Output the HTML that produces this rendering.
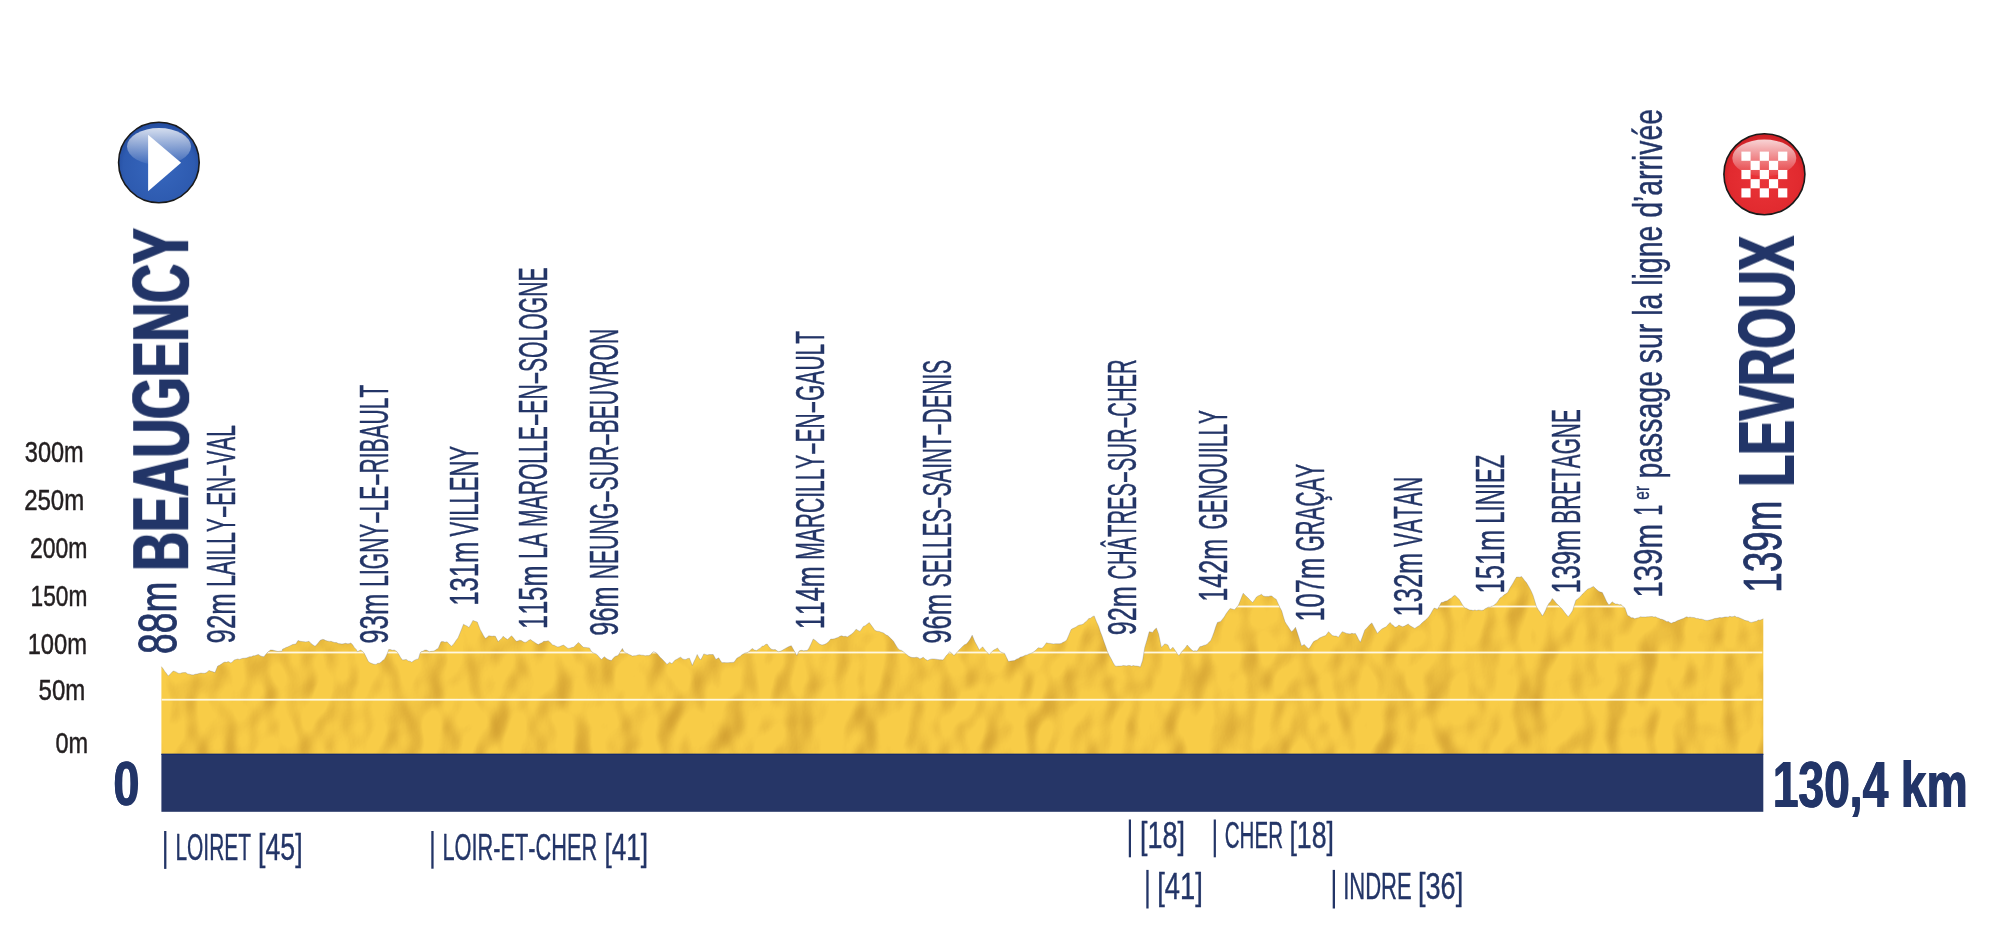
<!DOCTYPE html><html><head><meta charset="utf-8"><style>html,body{margin:0;padding:0;background:#fff;width:2000px;height:935px;overflow:hidden}svg{display:block;will-change:transform}text{font-family:"Liberation Sans",sans-serif;font-kerning:none}</style></head><body>
<svg width="2000" height="935" viewBox="0 0 2000 935">
<defs>
<clipPath id="prof"><path d="M161.4 754.0 L161.40 666.60 L163.10 668.79 L164.80 671.39 L166.50 673.56 L168.20 675.90 L169.87 674.46 L171.53 672.85 L173.20 671.00 L174.83 671.44 L176.47 672.13 L178.10 673.20 L180.03 673.45 L181.95 672.78 L183.88 672.61 L185.80 672.60 L187.63 673.88 L189.47 674.14 L191.30 674.80 L193.23 674.88 L195.15 674.23 L197.07 674.05 L199.00 673.50 L200.93 673.06 L202.85 673.27 L204.77 673.26 L206.70 672.60 L208.90 670.40 L210.55 671.07 L212.20 671.50 L215.00 672.60 L217.70 666.00 L219.53 665.22 L221.37 664.05 L223.20 662.70 L224.87 662.04 L226.53 662.30 L228.20 661.60 L230.90 662.90 L232.55 661.63 L234.20 660.00 L235.96 659.58 L237.72 659.00 L239.48 659.41 L241.24 658.72 L243.00 658.30 L244.65 658.20 L246.30 657.94 L247.95 657.39 L249.60 656.70 L251.36 656.74 L253.12 655.83 L254.88 655.75 L256.64 654.99 L258.40 654.50 L260.23 655.73 L262.07 656.41 L263.90 656.70 L266.10 653.94 L268.30 651.70 L270.50 650.00 L272.33 650.07 L274.17 650.45 L276.00 650.90 L278.00 651.52 L280.00 651.14 L282.00 651.20 L282.60 649.00 L284.25 648.51 L285.90 647.52 L287.55 647.01 L289.20 646.20 L290.85 645.40 L292.50 644.60 L294.15 644.27 L295.80 644.00 L298.00 640.50 L300.20 641.23 L302.40 641.60 L304.05 641.70 L305.70 641.91 L307.35 641.64 L309.00 641.30 L311.00 643.42 L313.00 644.99 L315.00 646.20 L316.67 644.84 L318.33 642.65 L320.00 640.50 L322.20 639.40 L323.96 639.58 L325.72 640.58 L327.48 641.06 L329.24 641.38 L331.00 641.30 L332.83 641.91 L334.67 642.49 L336.50 642.49 L338.33 643.50 L340.17 643.72 L342.00 644.00 L343.76 643.69 L345.52 643.27 L347.28 643.76 L349.04 643.66 L350.80 642.90 L352.63 644.83 L354.47 647.67 L356.30 649.50 L357.40 651.70 L359.05 650.87 L360.70 650.00 L362.35 651.19 L364.00 652.80 L366.20 657.11 L368.40 661.60 L370.00 662.70 L372.00 663.61 L374.00 664.27 L376.00 664.40 L377.67 663.36 L379.33 663.14 L381.00 662.20 L382.65 660.49 L384.30 659.40 L385.95 656.40 L387.60 652.80 L388.70 649.50 L390.53 649.61 L392.37 650.28 L394.20 650.00 L396.40 651.20 L398.60 653.90 L400.55 657.48 L402.50 660.00 L404.40 659.80 L406.30 659.40 L408.13 660.88 L409.97 661.20 L411.80 662.20 L414.00 660.52 L416.20 659.40 L418.40 658.90 L420.00 653.40 L421.20 651.70 L422.83 651.32 L424.47 650.24 L426.10 650.00 L427.75 650.68 L429.40 651.70 L431.23 651.35 L433.07 651.17 L434.90 650.60 L436.55 649.29 L438.20 648.40 L441.00 641.80 L443.00 641.49 L445.00 642.23 L447.00 641.80 L449.20 643.93 L451.40 646.20 L453.05 644.66 L454.70 642.56 L456.35 640.04 L458.00 638.00 L459.83 633.46 L461.67 628.92 L463.50 624.20 L465.15 625.28 L466.80 625.90 L469.00 627.50 L470.95 624.14 L472.90 620.40 L475.10 621.35 L477.30 622.00 L480.00 629.20 L481.83 632.51 L483.67 635.90 L485.50 638.50 L487.15 637.26 L488.80 635.80 L490.45 635.96 L492.10 636.35 L493.75 636.04 L495.40 636.30 L498.20 641.80 L499.83 639.89 L501.47 638.66 L503.10 636.30 L505.30 638.07 L507.50 639.60 L509.45 637.84 L511.40 635.80 L513.03 637.29 L514.67 639.49 L516.30 641.30 L517.95 640.92 L519.60 640.20 L521.43 640.60 L523.27 641.87 L525.10 642.40 L526.93 641.69 L528.77 640.24 L530.60 639.60 L532.52 641.06 L534.45 642.17 L536.38 643.61 L538.30 644.60 L540.13 643.47 L541.97 642.69 L543.80 641.30 L546.00 641.31 L548.20 640.70 L550.40 642.57 L552.60 645.10 L554.25 645.23 L555.90 646.21 L557.55 646.89 L559.20 646.80 L561.40 645.83 L563.60 645.10 L565.80 646.81 L568.00 648.40 L569.83 648.22 L571.67 647.60 L573.50 647.30 L575.17 645.64 L576.83 643.96 L578.50 642.40 L580.13 644.02 L581.77 645.85 L583.40 647.30 L585.40 647.42 L587.40 647.69 L589.40 647.90 L591.60 651.70 L593.80 653.15 L596.00 653.90 L597.83 655.41 L599.67 657.73 L601.50 659.40 L604.30 656.70 L607.00 658.90 L609.20 660.01 L611.40 660.50 L613.05 658.53 L614.70 656.70 L616.35 656.00 L618.00 655.60 L619.70 652.80 L622.40 648.40 L624.10 651.70 L625.73 653.01 L627.37 653.43 L629.00 654.50 L630.65 655.12 L632.30 656.10 L634.13 655.78 L635.97 655.64 L637.80 655.00 L639.63 654.84 L641.47 655.14 L643.30 655.25 L645.13 655.80 L646.97 655.54 L648.80 655.60 L650.47 654.72 L652.13 652.80 L653.80 651.70 L655.40 652.50 L657.00 653.40 L658.67 655.47 L660.33 657.51 L662.00 658.90 L663.67 660.79 L665.33 662.42 L667.00 664.40 L669.70 662.20 L671.90 663.80 L673.55 661.66 L675.20 660.00 L677.03 659.19 L678.87 657.96 L680.70 657.20 L682.35 658.68 L684.00 659.40 L685.83 659.44 L687.67 658.48 L689.50 658.30 L692.30 665.50 L693.93 661.73 L695.57 658.54 L697.20 654.50 L698.85 657.48 L700.50 660.00 L702.15 657.33 L703.80 653.90 L705.45 654.41 L707.10 655.00 L709.13 654.60 L711.17 654.58 L713.20 654.50 L715.90 659.40 L718.70 657.80 L720.35 660.61 L722.00 662.70 L724.00 662.59 L726.00 662.66 L728.00 662.70 L730.00 662.56 L732.00 662.39 L734.00 662.20 L736.80 658.30 L738.45 657.22 L740.10 656.58 L741.75 654.79 L743.40 653.90 L745.05 653.00 L746.70 652.80 L748.53 651.83 L750.37 650.31 L752.20 648.40 L754.40 650.04 L756.60 650.60 L758.43 649.17 L760.27 648.17 L762.10 646.20 L763.77 645.95 L765.43 644.58 L767.10 644.00 L769.00 646.82 L770.90 649.00 L773.10 649.65 L775.30 649.50 L776.95 650.85 L778.60 651.70 L780.25 651.27 L781.90 650.60 L784.10 649.16 L786.30 647.90 L787.97 647.12 L789.63 646.29 L791.30 645.70 L794.00 650.60 L796.80 655.60 L799.00 651.20 L800.00 650.60 L801.80 650.31 L803.60 650.78 L805.40 650.51 L807.20 650.60 L808.80 648.40 L811.00 644.08 L813.20 639.00 L815.40 640.39 L817.60 642.40 L819.80 644.21 L822.00 645.10 L824.20 644.57 L826.40 643.50 L828.60 641.73 L830.80 639.00 L832.63 639.12 L834.47 638.79 L836.30 638.00 L838.13 637.44 L839.97 636.20 L841.80 635.80 L843.63 636.49 L845.47 636.34 L847.30 636.90 L849.50 635.42 L851.70 634.10 L853.90 631.90 L856.10 629.20 L858.05 630.42 L860.00 631.40 L861.65 628.92 L863.30 626.40 L865.30 625.63 L867.30 624.07 L869.30 622.60 L871.13 625.12 L872.97 627.61 L874.80 630.30 L877.00 631.28 L879.20 631.40 L881.40 632.28 L883.60 633.00 L885.80 634.75 L888.00 635.80 L889.83 637.60 L891.67 639.29 L893.50 641.30 L895.70 644.98 L897.90 648.40 L899.73 649.89 L901.57 650.40 L903.40 651.70 L905.05 653.46 L906.70 654.50 L908.90 656.33 L911.10 657.20 L912.93 657.58 L914.77 657.59 L916.60 657.20 L918.25 657.71 L919.90 658.90 L921.55 658.27 L923.20 657.20 L925.40 659.28 L927.60 660.50 L929.80 659.39 L932.00 658.90 L933.83 658.96 L935.67 659.13 L937.50 659.40 L939.33 659.72 L941.17 659.83 L943.00 660.00 L944.65 657.88 L946.30 655.60 L947.95 654.00 L949.60 651.70 L951.80 653.30 L954.00 655.60 L955.65 653.65 L957.30 652.30 L958.95 650.11 L960.60 648.40 L962.52 646.51 L964.45 644.81 L966.38 643.98 L968.30 641.80 L970.25 638.92 L972.20 635.20 L974.90 641.80 L977.10 645.63 L979.30 650.00 L980.95 648.50 L982.60 646.80 L984.25 648.93 L985.90 651.20 L987.55 652.78 L989.20 654.50 L991.40 652.22 L993.60 650.00 L995.55 649.18 L997.50 647.90 L1000.20 651.70 L1002.40 652.73 L1004.60 653.40 L1006.55 657.47 L1008.50 661.60 L1010.50 661.06 L1012.50 660.81 L1014.50 660.50 L1016.50 659.13 L1018.50 658.38 L1020.50 657.10 L1022.15 656.84 L1023.80 655.99 L1025.45 655.17 L1027.10 654.90 L1028.93 653.98 L1030.77 653.42 L1032.60 652.70 L1034.43 651.26 L1036.27 649.79 L1038.10 647.80 L1040.05 648.04 L1042.00 648.30 L1044.20 645.92 L1046.40 642.80 L1048.30 643.31 L1050.20 643.40 L1051.85 643.69 L1053.50 643.90 L1055.42 643.76 L1057.35 643.75 L1059.28 643.81 L1061.20 643.40 L1063.03 642.33 L1064.87 641.47 L1066.70 640.10 L1068.90 634.91 L1071.10 629.60 L1072.75 628.52 L1074.40 627.83 L1076.05 627.03 L1077.70 625.80 L1079.53 624.95 L1081.37 624.70 L1083.20 624.10 L1085.03 622.30 L1086.87 620.88 L1088.70 618.60 L1090.53 618.19 L1092.37 616.79 L1094.20 615.90 L1096.40 621.56 L1098.60 626.30 L1100.36 631.72 L1102.12 636.31 L1103.88 641.55 L1105.64 646.30 L1107.40 651.60 L1109.33 655.56 L1111.25 659.00 L1113.17 662.77 L1115.10 665.90 L1116.75 666.23 L1118.40 666.08 L1120.05 666.11 L1121.70 665.92 L1123.35 665.48 L1125.00 665.70 L1126.65 665.91 L1128.30 665.42 L1129.95 665.58 L1131.60 666.18 L1133.25 665.56 L1134.90 665.90 L1136.73 666.00 L1138.57 666.37 L1140.40 667.00 L1142.60 660.40 L1144.80 647.20 L1147.00 639.94 L1149.20 631.80 L1150.85 631.91 L1152.50 632.40 L1154.45 629.87 L1156.40 628.00 L1158.60 634.00 L1161.30 647.20 L1162.95 645.96 L1164.60 643.90 L1166.25 644.21 L1167.90 645.00 L1170.10 650.00 L1172.90 647.20 L1175.60 651.10 L1177.25 653.71 L1178.90 655.50 L1180.55 653.56 L1182.20 651.10 L1183.87 649.47 L1185.53 647.54 L1187.20 645.00 L1189.20 647.20 L1191.20 649.44 L1193.20 651.10 L1195.15 650.78 L1197.10 651.10 L1199.80 646.70 L1201.72 646.34 L1203.65 645.41 L1205.58 644.89 L1207.50 643.90 L1209.15 642.00 L1210.80 640.60 L1212.45 636.40 L1214.10 632.04 L1215.75 626.73 L1217.40 622.50 L1219.05 621.89 L1220.70 621.40 L1222.46 619.14 L1224.22 616.96 L1225.98 614.01 L1227.74 611.53 L1229.50 609.30 L1230.00 608.60 L1232.20 609.02 L1234.40 609.70 L1236.35 607.70 L1238.30 605.30 L1239.93 601.59 L1241.57 597.24 L1243.20 593.20 L1245.40 595.38 L1247.60 597.60 L1249.27 599.27 L1250.93 600.90 L1252.60 602.60 L1254.50 599.88 L1256.40 597.10 L1258.07 595.89 L1259.73 595.33 L1261.40 594.30 L1263.30 595.93 L1265.20 596.50 L1266.85 596.40 L1268.50 596.57 L1270.15 595.92 L1271.80 596.00 L1274.00 597.92 L1276.20 599.30 L1278.40 604.20 L1280.05 607.83 L1281.70 610.80 L1283.35 616.56 L1285.00 621.80 L1286.65 624.39 L1288.30 626.84 L1289.95 629.45 L1291.60 631.70 L1293.55 629.96 L1295.50 627.30 L1297.50 633.32 L1299.50 639.50 L1301.50 646.00 L1304.30 644.40 L1306.50 646.92 L1308.70 648.80 L1310.33 646.87 L1311.97 644.12 L1313.60 641.60 L1315.52 640.55 L1317.45 639.70 L1319.38 638.12 L1321.30 637.20 L1323.50 636.29 L1325.70 635.60 L1328.50 631.70 L1330.40 633.48 L1332.30 635.60 L1334.25 636.03 L1336.20 636.10 L1338.40 637.20 L1340.30 634.38 L1342.20 631.70 L1344.40 632.41 L1346.60 633.40 L1348.36 633.67 L1350.12 633.91 L1351.88 633.32 L1353.64 633.68 L1355.40 633.40 L1357.07 636.36 L1358.73 639.68 L1360.40 642.20 L1362.60 636.33 L1364.80 630.10 L1366.58 628.19 L1368.35 626.35 L1370.12 624.37 L1371.90 622.90 L1373.73 626.48 L1375.57 629.89 L1377.40 633.40 L1379.60 631.01 L1381.80 629.00 L1384.00 627.87 L1386.20 626.80 L1388.15 624.54 L1390.10 622.40 L1391.73 624.38 L1393.37 625.45 L1395.00 627.30 L1396.95 626.74 L1398.90 625.10 L1400.80 626.03 L1402.70 626.80 L1404.53 626.06 L1406.37 625.00 L1408.20 624.00 L1409.85 625.50 L1411.50 626.59 L1413.15 627.45 L1414.80 628.40 L1416.45 627.26 L1418.10 626.25 L1419.75 625.15 L1421.40 623.50 L1423.33 621.71 L1425.25 620.21 L1427.17 618.61 L1429.10 616.30 L1430.77 613.64 L1432.43 610.69 L1434.10 608.10 L1435.75 608.51 L1437.40 609.20 L1439.30 606.20 L1441.20 602.60 L1443.10 602.21 L1445.00 601.30 L1447.20 600.71 L1449.40 599.10 L1451.23 598.22 L1453.07 596.37 L1454.90 595.20 L1457.10 597.22 L1459.30 599.60 L1460.95 602.23 L1462.60 605.10 L1464.80 607.90 L1466.45 608.27 L1468.10 609.28 L1469.75 609.97 L1471.40 610.10 L1473.13 610.56 L1474.86 609.98 L1476.59 610.53 L1478.31 610.03 L1480.04 610.13 L1481.77 610.41 L1483.50 610.10 L1485.15 608.73 L1486.80 607.90 L1488.45 607.08 L1490.10 607.20 L1491.75 606.16 L1493.40 605.70 L1495.05 604.27 L1496.70 602.90 L1498.35 600.62 L1500.00 598.00 L1501.92 596.88 L1503.85 594.91 L1505.78 593.83 L1507.70 592.50 L1509.90 588.10 L1511.55 585.39 L1513.20 582.69 L1514.85 579.69 L1516.50 577.10 L1518.17 577.08 L1519.83 577.21 L1521.50 576.50 L1523.13 578.54 L1524.77 580.71 L1526.40 582.60 L1528.60 586.21 L1530.80 590.30 L1533.00 595.20 L1534.65 600.60 L1536.30 606.20 L1538.33 609.75 L1540.37 612.55 L1542.40 616.10 L1544.03 613.25 L1545.67 609.97 L1547.30 606.20 L1548.97 603.37 L1550.63 601.56 L1552.30 598.50 L1554.30 600.69 L1556.30 603.25 L1558.30 605.10 L1559.95 607.08 L1561.60 608.40 L1563.25 610.39 L1564.90 612.81 L1566.55 614.86 L1568.20 616.70 L1570.40 614.03 L1572.60 610.60 L1574.25 605.29 L1575.90 600.20 L1577.55 599.00 L1579.20 597.67 L1580.85 595.88 L1582.50 594.10 L1584.70 592.03 L1586.90 589.70 L1588.55 588.63 L1590.20 588.14 L1591.85 587.19 L1593.50 586.40 L1595.33 588.36 L1597.17 589.99 L1599.00 591.40 L1600.65 592.11 L1602.30 592.50 L1604.50 596.96 L1606.70 601.80 L1608.90 605.10 L1610.55 603.68 L1612.20 601.80 L1613.85 603.12 L1615.50 604.00 L1617.33 604.01 L1619.17 604.85 L1621.00 604.60 L1622.95 606.49 L1624.90 607.90 L1627.60 615.60 L1629.40 616.16 L1631.20 617.69 L1633.00 617.78 L1634.80 618.80 L1636.67 618.08 L1638.53 617.77 L1640.40 616.80 L1642.09 616.99 L1643.78 616.95 L1645.47 617.03 L1647.16 616.86 L1648.84 616.73 L1650.53 616.61 L1652.22 616.51 L1653.91 617.09 L1655.60 616.80 L1657.20 617.77 L1658.80 618.22 L1660.40 619.04 L1662.00 619.33 L1663.60 619.89 L1665.20 620.64 L1666.80 621.72 L1668.40 621.61 L1670.00 622.66 L1671.60 623.20 L1673.29 622.36 L1674.98 622.12 L1676.67 621.04 L1678.36 620.31 L1680.04 619.66 L1681.73 619.07 L1683.42 618.57 L1685.11 617.48 L1686.80 616.80 L1688.40 617.44 L1690.00 617.01 L1691.60 617.38 L1693.20 617.45 L1694.80 617.69 L1696.40 618.52 L1698.00 618.40 L1699.60 619.10 L1701.20 619.02 L1702.80 619.42 L1704.40 620.02 L1706.00 620.40 L1707.71 620.38 L1709.43 620.10 L1711.14 619.70 L1712.86 619.21 L1714.57 618.47 L1716.29 618.35 L1718.00 618.00 L1719.68 617.62 L1721.36 617.72 L1723.04 617.56 L1724.72 617.03 L1726.40 616.88 L1728.08 617.15 L1729.76 616.28 L1731.44 616.77 L1733.12 616.65 L1734.80 616.00 L1736.48 617.14 L1738.16 617.27 L1739.84 618.07 L1741.52 618.73 L1743.20 619.42 L1744.88 620.37 L1746.56 620.75 L1748.24 621.04 L1749.92 622.18 L1751.60 622.40 L1753.27 621.97 L1754.94 621.56 L1756.61 621.16 L1758.29 619.99 L1759.96 620.17 L1761.63 619.56 L1763.30 618.80 L1763.3 754.0 Z"/></clipPath>
<filter id="tex" x="0" y="0" width="1" height="1" filterUnits="objectBoundingBox" color-interpolation-filters="sRGB">
<feTurbulence type="fractalNoise" baseFrequency="0.03 0.022" numOctaves="2" seed="5" result="n"/>
<feGaussianBlur in="n" stdDeviation="2.2" result="nb"/>
<feDiffuseLighting in="nb" surfaceScale="12" diffuseConstant="1.0" lighting-color="#ffffff" result="lt">
<feDistantLight azimuth="200" elevation="48"/>
</feDiffuseLighting>
<feColorMatrix in="lt" type="matrix" values="0 0 0 0 0.80  0 0 0 0 0.60  0 0 0 0 0.18  -1.15 0 0 0 0.95" result="sh"/>
<feComposite in="sh" in2="SourceGraphic" operator="over" result="b"/>
<feComposite in="b" in2="SourceGraphic" operator="in"/>
</filter>
<filter id="dil1" x="-0.1" y="-0.1" width="1.2" height="1.2"><feOffset in="SourceGraphic" dx="1.15" result="a"/><feOffset in="SourceGraphic" dx="-1.15" result="b"/><feMerge><feMergeNode in="a"/><feMergeNode in="b"/><feMergeNode in="SourceGraphic"/></feMerge></filter>
<filter id="dil05" x="-0.1" y="-0.1" width="1.2" height="1.2"><feOffset in="SourceGraphic" dx="0.5" result="a"/><feOffset in="SourceGraphic" dx="-0.5" result="b"/><feMerge><feMergeNode in="a"/><feMergeNode in="b"/><feMergeNode in="SourceGraphic"/></feMerge></filter>
<radialGradient id="blueg" cx="0.5" cy="0.55" r="0.55">
<stop offset="0" stop-color="#3767be"/><stop offset="0.8" stop-color="#2e5bb0"/><stop offset="1" stop-color="#224a9c"/>
</radialGradient>
<radialGradient id="redg" cx="0.5" cy="0.55" r="0.55">
<stop offset="0" stop-color="#ea3438"/><stop offset="0.8" stop-color="#e12a2f"/><stop offset="1" stop-color="#c81f24"/>
</radialGradient>
<linearGradient id="hl" x1="0" y1="0" x2="0" y2="1">
<stop offset="0" stop-color="#fff" stop-opacity="0.8"/><stop offset="1" stop-color="#fff" stop-opacity="0.05"/>
</linearGradient>
</defs>
<g clip-path="url(#prof)">
<rect x="140" y="540" width="1650" height="240" fill="#f8cc47" filter="url(#tex)"/>
<rect x="161.4" y="605.60" width="1600.9" height="1.8" fill="#fff8e2"/>
<rect x="161.4" y="651.60" width="1600.9" height="1.8" fill="#fff8e2"/>
<rect x="161.4" y="698.80" width="1600.9" height="1.8" fill="#fff8e2"/>
</g>
<path d="M161.40 666.60 L163.10 668.79 L164.80 671.39 L166.50 673.56 L168.20 675.90 L169.87 674.46 L171.53 672.85 L173.20 671.00 L174.83 671.44 L176.47 672.13 L178.10 673.20 L180.03 673.45 L181.95 672.78 L183.88 672.61 L185.80 672.60 L187.63 673.88 L189.47 674.14 L191.30 674.80 L193.23 674.88 L195.15 674.23 L197.07 674.05 L199.00 673.50 L200.93 673.06 L202.85 673.27 L204.77 673.26 L206.70 672.60 L208.90 670.40 L210.55 671.07 L212.20 671.50 L215.00 672.60 L217.70 666.00 L219.53 665.22 L221.37 664.05 L223.20 662.70 L224.87 662.04 L226.53 662.30 L228.20 661.60 L230.90 662.90 L232.55 661.63 L234.20 660.00 L235.96 659.58 L237.72 659.00 L239.48 659.41 L241.24 658.72 L243.00 658.30 L244.65 658.20 L246.30 657.94 L247.95 657.39 L249.60 656.70 L251.36 656.74 L253.12 655.83 L254.88 655.75 L256.64 654.99 L258.40 654.50 L260.23 655.73 L262.07 656.41 L263.90 656.70 L266.10 653.94 L268.30 651.70 L270.50 650.00 L272.33 650.07 L274.17 650.45 L276.00 650.90 L278.00 651.52 L280.00 651.14 L282.00 651.20 L282.60 649.00 L284.25 648.51 L285.90 647.52 L287.55 647.01 L289.20 646.20 L290.85 645.40 L292.50 644.60 L294.15 644.27 L295.80 644.00 L298.00 640.50 L300.20 641.23 L302.40 641.60 L304.05 641.70 L305.70 641.91 L307.35 641.64 L309.00 641.30 L311.00 643.42 L313.00 644.99 L315.00 646.20 L316.67 644.84 L318.33 642.65 L320.00 640.50 L322.20 639.40 L323.96 639.58 L325.72 640.58 L327.48 641.06 L329.24 641.38 L331.00 641.30 L332.83 641.91 L334.67 642.49 L336.50 642.49 L338.33 643.50 L340.17 643.72 L342.00 644.00 L343.76 643.69 L345.52 643.27 L347.28 643.76 L349.04 643.66 L350.80 642.90 L352.63 644.83 L354.47 647.67 L356.30 649.50 L357.40 651.70 L359.05 650.87 L360.70 650.00 L362.35 651.19 L364.00 652.80 L366.20 657.11 L368.40 661.60 L370.00 662.70 L372.00 663.61 L374.00 664.27 L376.00 664.40 L377.67 663.36 L379.33 663.14 L381.00 662.20 L382.65 660.49 L384.30 659.40 L385.95 656.40 L387.60 652.80 L388.70 649.50 L390.53 649.61 L392.37 650.28 L394.20 650.00 L396.40 651.20 L398.60 653.90 L400.55 657.48 L402.50 660.00 L404.40 659.80 L406.30 659.40 L408.13 660.88 L409.97 661.20 L411.80 662.20 L414.00 660.52 L416.20 659.40 L418.40 658.90 L420.00 653.40 L421.20 651.70 L422.83 651.32 L424.47 650.24 L426.10 650.00 L427.75 650.68 L429.40 651.70 L431.23 651.35 L433.07 651.17 L434.90 650.60 L436.55 649.29 L438.20 648.40 L441.00 641.80 L443.00 641.49 L445.00 642.23 L447.00 641.80 L449.20 643.93 L451.40 646.20 L453.05 644.66 L454.70 642.56 L456.35 640.04 L458.00 638.00 L459.83 633.46 L461.67 628.92 L463.50 624.20 L465.15 625.28 L466.80 625.90 L469.00 627.50 L470.95 624.14 L472.90 620.40 L475.10 621.35 L477.30 622.00 L480.00 629.20 L481.83 632.51 L483.67 635.90 L485.50 638.50 L487.15 637.26 L488.80 635.80 L490.45 635.96 L492.10 636.35 L493.75 636.04 L495.40 636.30 L498.20 641.80 L499.83 639.89 L501.47 638.66 L503.10 636.30 L505.30 638.07 L507.50 639.60 L509.45 637.84 L511.40 635.80 L513.03 637.29 L514.67 639.49 L516.30 641.30 L517.95 640.92 L519.60 640.20 L521.43 640.60 L523.27 641.87 L525.10 642.40 L526.93 641.69 L528.77 640.24 L530.60 639.60 L532.52 641.06 L534.45 642.17 L536.38 643.61 L538.30 644.60 L540.13 643.47 L541.97 642.69 L543.80 641.30 L546.00 641.31 L548.20 640.70 L550.40 642.57 L552.60 645.10 L554.25 645.23 L555.90 646.21 L557.55 646.89 L559.20 646.80 L561.40 645.83 L563.60 645.10 L565.80 646.81 L568.00 648.40 L569.83 648.22 L571.67 647.60 L573.50 647.30 L575.17 645.64 L576.83 643.96 L578.50 642.40 L580.13 644.02 L581.77 645.85 L583.40 647.30 L585.40 647.42 L587.40 647.69 L589.40 647.90 L591.60 651.70 L593.80 653.15 L596.00 653.90 L597.83 655.41 L599.67 657.73 L601.50 659.40 L604.30 656.70 L607.00 658.90 L609.20 660.01 L611.40 660.50 L613.05 658.53 L614.70 656.70 L616.35 656.00 L618.00 655.60 L619.70 652.80 L622.40 648.40 L624.10 651.70 L625.73 653.01 L627.37 653.43 L629.00 654.50 L630.65 655.12 L632.30 656.10 L634.13 655.78 L635.97 655.64 L637.80 655.00 L639.63 654.84 L641.47 655.14 L643.30 655.25 L645.13 655.80 L646.97 655.54 L648.80 655.60 L650.47 654.72 L652.13 652.80 L653.80 651.70 L655.40 652.50 L657.00 653.40 L658.67 655.47 L660.33 657.51 L662.00 658.90 L663.67 660.79 L665.33 662.42 L667.00 664.40 L669.70 662.20 L671.90 663.80 L673.55 661.66 L675.20 660.00 L677.03 659.19 L678.87 657.96 L680.70 657.20 L682.35 658.68 L684.00 659.40 L685.83 659.44 L687.67 658.48 L689.50 658.30 L692.30 665.50 L693.93 661.73 L695.57 658.54 L697.20 654.50 L698.85 657.48 L700.50 660.00 L702.15 657.33 L703.80 653.90 L705.45 654.41 L707.10 655.00 L709.13 654.60 L711.17 654.58 L713.20 654.50 L715.90 659.40 L718.70 657.80 L720.35 660.61 L722.00 662.70 L724.00 662.59 L726.00 662.66 L728.00 662.70 L730.00 662.56 L732.00 662.39 L734.00 662.20 L736.80 658.30 L738.45 657.22 L740.10 656.58 L741.75 654.79 L743.40 653.90 L745.05 653.00 L746.70 652.80 L748.53 651.83 L750.37 650.31 L752.20 648.40 L754.40 650.04 L756.60 650.60 L758.43 649.17 L760.27 648.17 L762.10 646.20 L763.77 645.95 L765.43 644.58 L767.10 644.00 L769.00 646.82 L770.90 649.00 L773.10 649.65 L775.30 649.50 L776.95 650.85 L778.60 651.70 L780.25 651.27 L781.90 650.60 L784.10 649.16 L786.30 647.90 L787.97 647.12 L789.63 646.29 L791.30 645.70 L794.00 650.60 L796.80 655.60 L799.00 651.20 L800.00 650.60 L801.80 650.31 L803.60 650.78 L805.40 650.51 L807.20 650.60 L808.80 648.40 L811.00 644.08 L813.20 639.00 L815.40 640.39 L817.60 642.40 L819.80 644.21 L822.00 645.10 L824.20 644.57 L826.40 643.50 L828.60 641.73 L830.80 639.00 L832.63 639.12 L834.47 638.79 L836.30 638.00 L838.13 637.44 L839.97 636.20 L841.80 635.80 L843.63 636.49 L845.47 636.34 L847.30 636.90 L849.50 635.42 L851.70 634.10 L853.90 631.90 L856.10 629.20 L858.05 630.42 L860.00 631.40 L861.65 628.92 L863.30 626.40 L865.30 625.63 L867.30 624.07 L869.30 622.60 L871.13 625.12 L872.97 627.61 L874.80 630.30 L877.00 631.28 L879.20 631.40 L881.40 632.28 L883.60 633.00 L885.80 634.75 L888.00 635.80 L889.83 637.60 L891.67 639.29 L893.50 641.30 L895.70 644.98 L897.90 648.40 L899.73 649.89 L901.57 650.40 L903.40 651.70 L905.05 653.46 L906.70 654.50 L908.90 656.33 L911.10 657.20 L912.93 657.58 L914.77 657.59 L916.60 657.20 L918.25 657.71 L919.90 658.90 L921.55 658.27 L923.20 657.20 L925.40 659.28 L927.60 660.50 L929.80 659.39 L932.00 658.90 L933.83 658.96 L935.67 659.13 L937.50 659.40 L939.33 659.72 L941.17 659.83 L943.00 660.00 L944.65 657.88 L946.30 655.60 L947.95 654.00 L949.60 651.70 L951.80 653.30 L954.00 655.60 L955.65 653.65 L957.30 652.30 L958.95 650.11 L960.60 648.40 L962.52 646.51 L964.45 644.81 L966.38 643.98 L968.30 641.80 L970.25 638.92 L972.20 635.20 L974.90 641.80 L977.10 645.63 L979.30 650.00 L980.95 648.50 L982.60 646.80 L984.25 648.93 L985.90 651.20 L987.55 652.78 L989.20 654.50 L991.40 652.22 L993.60 650.00 L995.55 649.18 L997.50 647.90 L1000.20 651.70 L1002.40 652.73 L1004.60 653.40 L1006.55 657.47 L1008.50 661.60 L1010.50 661.06 L1012.50 660.81 L1014.50 660.50 L1016.50 659.13 L1018.50 658.38 L1020.50 657.10 L1022.15 656.84 L1023.80 655.99 L1025.45 655.17 L1027.10 654.90 L1028.93 653.98 L1030.77 653.42 L1032.60 652.70 L1034.43 651.26 L1036.27 649.79 L1038.10 647.80 L1040.05 648.04 L1042.00 648.30 L1044.20 645.92 L1046.40 642.80 L1048.30 643.31 L1050.20 643.40 L1051.85 643.69 L1053.50 643.90 L1055.42 643.76 L1057.35 643.75 L1059.28 643.81 L1061.20 643.40 L1063.03 642.33 L1064.87 641.47 L1066.70 640.10 L1068.90 634.91 L1071.10 629.60 L1072.75 628.52 L1074.40 627.83 L1076.05 627.03 L1077.70 625.80 L1079.53 624.95 L1081.37 624.70 L1083.20 624.10 L1085.03 622.30 L1086.87 620.88 L1088.70 618.60 L1090.53 618.19 L1092.37 616.79 L1094.20 615.90 L1096.40 621.56 L1098.60 626.30 L1100.36 631.72 L1102.12 636.31 L1103.88 641.55 L1105.64 646.30 L1107.40 651.60 L1109.33 655.56 L1111.25 659.00 L1113.17 662.77 L1115.10 665.90 L1116.75 666.23 L1118.40 666.08 L1120.05 666.11 L1121.70 665.92 L1123.35 665.48 L1125.00 665.70 L1126.65 665.91 L1128.30 665.42 L1129.95 665.58 L1131.60 666.18 L1133.25 665.56 L1134.90 665.90 L1136.73 666.00 L1138.57 666.37 L1140.40 667.00 L1142.60 660.40 L1144.80 647.20 L1147.00 639.94 L1149.20 631.80 L1150.85 631.91 L1152.50 632.40 L1154.45 629.87 L1156.40 628.00 L1158.60 634.00 L1161.30 647.20 L1162.95 645.96 L1164.60 643.90 L1166.25 644.21 L1167.90 645.00 L1170.10 650.00 L1172.90 647.20 L1175.60 651.10 L1177.25 653.71 L1178.90 655.50 L1180.55 653.56 L1182.20 651.10 L1183.87 649.47 L1185.53 647.54 L1187.20 645.00 L1189.20 647.20 L1191.20 649.44 L1193.20 651.10 L1195.15 650.78 L1197.10 651.10 L1199.80 646.70 L1201.72 646.34 L1203.65 645.41 L1205.58 644.89 L1207.50 643.90 L1209.15 642.00 L1210.80 640.60 L1212.45 636.40 L1214.10 632.04 L1215.75 626.73 L1217.40 622.50 L1219.05 621.89 L1220.70 621.40 L1222.46 619.14 L1224.22 616.96 L1225.98 614.01 L1227.74 611.53 L1229.50 609.30 L1230.00 608.60 L1232.20 609.02 L1234.40 609.70 L1236.35 607.70 L1238.30 605.30 L1239.93 601.59 L1241.57 597.24 L1243.20 593.20 L1245.40 595.38 L1247.60 597.60 L1249.27 599.27 L1250.93 600.90 L1252.60 602.60 L1254.50 599.88 L1256.40 597.10 L1258.07 595.89 L1259.73 595.33 L1261.40 594.30 L1263.30 595.93 L1265.20 596.50 L1266.85 596.40 L1268.50 596.57 L1270.15 595.92 L1271.80 596.00 L1274.00 597.92 L1276.20 599.30 L1278.40 604.20 L1280.05 607.83 L1281.70 610.80 L1283.35 616.56 L1285.00 621.80 L1286.65 624.39 L1288.30 626.84 L1289.95 629.45 L1291.60 631.70 L1293.55 629.96 L1295.50 627.30 L1297.50 633.32 L1299.50 639.50 L1301.50 646.00 L1304.30 644.40 L1306.50 646.92 L1308.70 648.80 L1310.33 646.87 L1311.97 644.12 L1313.60 641.60 L1315.52 640.55 L1317.45 639.70 L1319.38 638.12 L1321.30 637.20 L1323.50 636.29 L1325.70 635.60 L1328.50 631.70 L1330.40 633.48 L1332.30 635.60 L1334.25 636.03 L1336.20 636.10 L1338.40 637.20 L1340.30 634.38 L1342.20 631.70 L1344.40 632.41 L1346.60 633.40 L1348.36 633.67 L1350.12 633.91 L1351.88 633.32 L1353.64 633.68 L1355.40 633.40 L1357.07 636.36 L1358.73 639.68 L1360.40 642.20 L1362.60 636.33 L1364.80 630.10 L1366.58 628.19 L1368.35 626.35 L1370.12 624.37 L1371.90 622.90 L1373.73 626.48 L1375.57 629.89 L1377.40 633.40 L1379.60 631.01 L1381.80 629.00 L1384.00 627.87 L1386.20 626.80 L1388.15 624.54 L1390.10 622.40 L1391.73 624.38 L1393.37 625.45 L1395.00 627.30 L1396.95 626.74 L1398.90 625.10 L1400.80 626.03 L1402.70 626.80 L1404.53 626.06 L1406.37 625.00 L1408.20 624.00 L1409.85 625.50 L1411.50 626.59 L1413.15 627.45 L1414.80 628.40 L1416.45 627.26 L1418.10 626.25 L1419.75 625.15 L1421.40 623.50 L1423.33 621.71 L1425.25 620.21 L1427.17 618.61 L1429.10 616.30 L1430.77 613.64 L1432.43 610.69 L1434.10 608.10 L1435.75 608.51 L1437.40 609.20 L1439.30 606.20 L1441.20 602.60 L1443.10 602.21 L1445.00 601.30 L1447.20 600.71 L1449.40 599.10 L1451.23 598.22 L1453.07 596.37 L1454.90 595.20 L1457.10 597.22 L1459.30 599.60 L1460.95 602.23 L1462.60 605.10 L1464.80 607.90 L1466.45 608.27 L1468.10 609.28 L1469.75 609.97 L1471.40 610.10 L1473.13 610.56 L1474.86 609.98 L1476.59 610.53 L1478.31 610.03 L1480.04 610.13 L1481.77 610.41 L1483.50 610.10 L1485.15 608.73 L1486.80 607.90 L1488.45 607.08 L1490.10 607.20 L1491.75 606.16 L1493.40 605.70 L1495.05 604.27 L1496.70 602.90 L1498.35 600.62 L1500.00 598.00 L1501.92 596.88 L1503.85 594.91 L1505.78 593.83 L1507.70 592.50 L1509.90 588.10 L1511.55 585.39 L1513.20 582.69 L1514.85 579.69 L1516.50 577.10 L1518.17 577.08 L1519.83 577.21 L1521.50 576.50 L1523.13 578.54 L1524.77 580.71 L1526.40 582.60 L1528.60 586.21 L1530.80 590.30 L1533.00 595.20 L1534.65 600.60 L1536.30 606.20 L1538.33 609.75 L1540.37 612.55 L1542.40 616.10 L1544.03 613.25 L1545.67 609.97 L1547.30 606.20 L1548.97 603.37 L1550.63 601.56 L1552.30 598.50 L1554.30 600.69 L1556.30 603.25 L1558.30 605.10 L1559.95 607.08 L1561.60 608.40 L1563.25 610.39 L1564.90 612.81 L1566.55 614.86 L1568.20 616.70 L1570.40 614.03 L1572.60 610.60 L1574.25 605.29 L1575.90 600.20 L1577.55 599.00 L1579.20 597.67 L1580.85 595.88 L1582.50 594.10 L1584.70 592.03 L1586.90 589.70 L1588.55 588.63 L1590.20 588.14 L1591.85 587.19 L1593.50 586.40 L1595.33 588.36 L1597.17 589.99 L1599.00 591.40 L1600.65 592.11 L1602.30 592.50 L1604.50 596.96 L1606.70 601.80 L1608.90 605.10 L1610.55 603.68 L1612.20 601.80 L1613.85 603.12 L1615.50 604.00 L1617.33 604.01 L1619.17 604.85 L1621.00 604.60 L1622.95 606.49 L1624.90 607.90 L1627.60 615.60 L1629.40 616.16 L1631.20 617.69 L1633.00 617.78 L1634.80 618.80 L1636.67 618.08 L1638.53 617.77 L1640.40 616.80 L1642.09 616.99 L1643.78 616.95 L1645.47 617.03 L1647.16 616.86 L1648.84 616.73 L1650.53 616.61 L1652.22 616.51 L1653.91 617.09 L1655.60 616.80 L1657.20 617.77 L1658.80 618.22 L1660.40 619.04 L1662.00 619.33 L1663.60 619.89 L1665.20 620.64 L1666.80 621.72 L1668.40 621.61 L1670.00 622.66 L1671.60 623.20 L1673.29 622.36 L1674.98 622.12 L1676.67 621.04 L1678.36 620.31 L1680.04 619.66 L1681.73 619.07 L1683.42 618.57 L1685.11 617.48 L1686.80 616.80 L1688.40 617.44 L1690.00 617.01 L1691.60 617.38 L1693.20 617.45 L1694.80 617.69 L1696.40 618.52 L1698.00 618.40 L1699.60 619.10 L1701.20 619.02 L1702.80 619.42 L1704.40 620.02 L1706.00 620.40 L1707.71 620.38 L1709.43 620.10 L1711.14 619.70 L1712.86 619.21 L1714.57 618.47 L1716.29 618.35 L1718.00 618.00 L1719.68 617.62 L1721.36 617.72 L1723.04 617.56 L1724.72 617.03 L1726.40 616.88 L1728.08 617.15 L1729.76 616.28 L1731.44 616.77 L1733.12 616.65 L1734.80 616.00 L1736.48 617.14 L1738.16 617.27 L1739.84 618.07 L1741.52 618.73 L1743.20 619.42 L1744.88 620.37 L1746.56 620.75 L1748.24 621.04 L1749.92 622.18 L1751.60 622.40 L1753.27 621.97 L1754.94 621.56 L1756.61 621.16 L1758.29 619.99 L1759.96 620.17 L1761.63 619.56 L1763.30 618.80" fill="none" stroke="#4a5a88" stroke-opacity="0.35" stroke-width="0.7" stroke-linejoin="round"/>
<rect x="161.4" y="753.8" width="1601.9" height="58" fill="#263667"/>
<rect x="161.4" y="753.8" width="1601.9" height="1.2" fill="#152a6c"/>
<text x="24.85" y="462.05" font-size="30.29" font-weight="normal" fill="#231f20" textLength="58.85" lengthAdjust="spacingAndGlyphs" stroke="#231f20" stroke-width="0.50" stroke-linejoin="round">300m</text>
<text x="24.14" y="510.15" font-size="30.29" font-weight="normal" fill="#231f20" textLength="60.09" lengthAdjust="spacingAndGlyphs" stroke="#231f20" stroke-width="0.50" stroke-linejoin="round">250m</text>
<text x="29.89" y="558.35" font-size="30.29" font-weight="normal" fill="#231f20" textLength="57.47" lengthAdjust="spacingAndGlyphs" stroke="#231f20" stroke-width="0.50" stroke-linejoin="round">200m</text>
<text x="30.62" y="606.25" font-size="30.29" font-weight="normal" fill="#231f20" textLength="56.72" lengthAdjust="spacingAndGlyphs" stroke="#231f20" stroke-width="0.50" stroke-linejoin="round">150m</text>
<text x="27.64" y="653.95" font-size="30.29" font-weight="normal" fill="#231f20" textLength="59.37" lengthAdjust="spacingAndGlyphs" stroke="#231f20" stroke-width="0.50" stroke-linejoin="round">100m</text>
<text x="38.59" y="699.55" font-size="30.29" font-weight="normal" fill="#231f20" textLength="46.64" lengthAdjust="spacingAndGlyphs" stroke="#231f20" stroke-width="0.50" stroke-linejoin="round">50m</text>
<text x="55.53" y="753.25" font-size="30.29" font-weight="normal" fill="#231f20" textLength="32.67" lengthAdjust="spacingAndGlyphs" stroke="#231f20" stroke-width="0.50" stroke-linejoin="round">0m</text>
<text x="112.89" y="804.60" font-size="63.50" font-weight="bold" fill="#233567" textLength="25.98" lengthAdjust="spacingAndGlyphs" filter="url(#dil05)">0</text>
<text x="1772.44" y="806.60" font-size="64.50" font-weight="bold" fill="#233567" textLength="194.78" lengthAdjust="spacingAndGlyphs" filter="url(#dil05)">130,4 km</text>
<rect x="164.10" y="831.00" width="2.30" height="37.90" fill="#233567"/>
<text x="175.38" y="859.50" font-size="36.43" font-weight="normal" fill="#233567" textLength="75.70" lengthAdjust="spacingAndGlyphs" stroke="#233567" stroke-width="0.40" stroke-linejoin="round">LOIRET</text>
<text x="258.10" y="859.50" font-size="36.43" font-weight="normal" fill="#233567" textLength="44.50" lengthAdjust="spacingAndGlyphs" stroke="#233567" stroke-width="0.40" stroke-linejoin="round">[45]</text>
<rect x="431.30" y="831.00" width="2.30" height="37.70" fill="#233567"/>
<text x="442.42" y="859.50" font-size="36.43" font-weight="normal" fill="#233567" textLength="154.69" lengthAdjust="spacingAndGlyphs" stroke="#233567" stroke-width="0.40" stroke-linejoin="round">LOIR-ET-CHER</text>
<text x="604.44" y="859.50" font-size="36.43" font-weight="normal" fill="#233567" textLength="43.63" lengthAdjust="spacingAndGlyphs" stroke="#233567" stroke-width="0.40" stroke-linejoin="round">[41]</text>
<rect x="1128.80" y="819.50" width="2.20" height="37.80" fill="#233567"/>
<text x="1140.08" y="847.90" font-size="36.43" font-weight="normal" fill="#233567" textLength="44.94" lengthAdjust="spacingAndGlyphs" stroke="#233567" stroke-width="0.40" stroke-linejoin="round">[18]</text>
<rect x="1213.70" y="819.50" width="2.20" height="37.80" fill="#233567"/>
<text x="1224.76" y="847.90" font-size="36.43" font-weight="normal" fill="#233567" textLength="58.30" lengthAdjust="spacingAndGlyphs" stroke="#233567" stroke-width="0.40" stroke-linejoin="round">CHER</text>
<text x="1289.39" y="847.90" font-size="36.43" font-weight="normal" fill="#233567" textLength="44.61" lengthAdjust="spacingAndGlyphs" stroke="#233567" stroke-width="0.40" stroke-linejoin="round">[18]</text>
<rect x="1146.30" y="869.90" width="2.30" height="38.60" fill="#233567"/>
<text x="1157.25" y="898.90" font-size="36.43" font-weight="normal" fill="#233567" textLength="45.60" lengthAdjust="spacingAndGlyphs" stroke="#233567" stroke-width="0.40" stroke-linejoin="round">[41]</text>
<rect x="1332.70" y="869.90" width="2.30" height="38.60" fill="#233567"/>
<text x="1343.17" y="898.90" font-size="36.43" font-weight="normal" fill="#233567" textLength="68.58" lengthAdjust="spacingAndGlyphs" stroke="#233567" stroke-width="0.40" stroke-linejoin="round">INDRE</text>
<text x="1417.97" y="898.90" font-size="36.43" font-weight="normal" fill="#233567" textLength="45.27" lengthAdjust="spacingAndGlyphs" stroke="#233567" stroke-width="0.40" stroke-linejoin="round">[36]</text>
<text transform="translate(234.68 643.38) rotate(-90)" x="0" y="0" font-size="40.36" font-weight="normal" fill="#233567" textLength="50.16" lengthAdjust="spacingAndGlyphs" stroke="#233567" stroke-width="0.45" stroke-linejoin="round">92m</text>
<text transform="translate(234.68 586.69) rotate(-90)" x="0" y="0" font-size="40.36" font-weight="normal" fill="#233567" textLength="161.66" lengthAdjust="spacingAndGlyphs" stroke="#233567" stroke-width="0.45" stroke-linejoin="round">LAILLY<tspan dy="2.90">−</tspan><tspan dy="-2.90">EN</tspan><tspan dy="2.90">−</tspan><tspan dy="-2.90">VAL</tspan></text>
<text transform="translate(388.38 643.68) rotate(-90)" x="0" y="0" font-size="40.36" font-weight="normal" fill="#233567" textLength="49.95" lengthAdjust="spacingAndGlyphs" stroke="#233567" stroke-width="0.45" stroke-linejoin="round">93m</text>
<text transform="translate(388.38 586.70) rotate(-90)" x="0" y="0" font-size="40.36" font-weight="normal" fill="#233567" textLength="201.95" lengthAdjust="spacingAndGlyphs" stroke="#233567" stroke-width="0.45" stroke-linejoin="round">LIGNY<tspan dy="2.90">−</tspan><tspan dy="-2.90">LE</tspan><tspan dy="2.90">−</tspan><tspan dy="-2.90">RIBAULT</tspan></text>
<text transform="translate(478.07 605.83) rotate(-90)" x="0" y="0" font-size="40.36" font-weight="normal" fill="#233567" textLength="64.20" lengthAdjust="spacingAndGlyphs" stroke="#233567" stroke-width="0.45" stroke-linejoin="round">131m</text>
<text transform="translate(478.07 536.57) rotate(-90)" x="0" y="0" font-size="40.36" font-weight="normal" fill="#233567" textLength="90.83" lengthAdjust="spacingAndGlyphs" stroke="#233567" stroke-width="0.45" stroke-linejoin="round">VILLENY</text>
<text transform="translate(546.98 628.91) rotate(-90)" x="0" y="0" font-size="40.36" font-weight="normal" fill="#233567" textLength="63.45" lengthAdjust="spacingAndGlyphs" stroke="#233567" stroke-width="0.45" stroke-linejoin="round">115m</text>
<text transform="translate(546.98 558.71) rotate(-90)" x="0" y="0" font-size="40.36" font-weight="normal" fill="#233567" textLength="291.19" lengthAdjust="spacingAndGlyphs" stroke="#233567" stroke-width="0.45" stroke-linejoin="round">LA MAROLLE<tspan dy="2.90">−</tspan><tspan dy="-2.90">EN</tspan><tspan dy="2.90">−</tspan><tspan dy="-2.90">SOLOGNE</tspan></text>
<text transform="translate(618.17 635.66) rotate(-90)" x="0" y="0" font-size="40.36" font-weight="normal" fill="#233567" textLength="49.20" lengthAdjust="spacingAndGlyphs" stroke="#233567" stroke-width="0.45" stroke-linejoin="round">96m</text>
<text transform="translate(618.17 579.31) rotate(-90)" x="0" y="0" font-size="40.36" font-weight="normal" fill="#233567" textLength="250.61" lengthAdjust="spacingAndGlyphs" stroke="#233567" stroke-width="0.45" stroke-linejoin="round">NEUNG<tspan dy="2.90">−</tspan><tspan dy="-2.90">SUR</tspan><tspan dy="2.90">−</tspan><tspan dy="-2.90">BEUVRON</tspan></text>
<text transform="translate(824.38 629.30) rotate(-90)" x="0" y="0" font-size="40.36" font-weight="normal" fill="#233567" textLength="63.14" lengthAdjust="spacingAndGlyphs" stroke="#233567" stroke-width="0.45" stroke-linejoin="round">114m</text>
<text transform="translate(824.38 559.70) rotate(-90)" x="0" y="0" font-size="40.36" font-weight="normal" fill="#233567" textLength="228.75" lengthAdjust="spacingAndGlyphs" stroke="#233567" stroke-width="0.45" stroke-linejoin="round">MARCILLY<tspan dy="2.90">−</tspan><tspan dy="-2.90">EN</tspan><tspan dy="2.90">−</tspan><tspan dy="-2.90">GAULT</tspan></text>
<text transform="translate(950.57 643.68) rotate(-90)" x="0" y="0" font-size="40.36" font-weight="normal" fill="#233567" textLength="49.84" lengthAdjust="spacingAndGlyphs" stroke="#233567" stroke-width="0.45" stroke-linejoin="round">96m</text>
<text transform="translate(950.57 587.22) rotate(-90)" x="0" y="0" font-size="40.36" font-weight="normal" fill="#233567" textLength="227.45" lengthAdjust="spacingAndGlyphs" stroke="#233567" stroke-width="0.45" stroke-linejoin="round">SELLES<tspan dy="2.90">−</tspan><tspan dy="-2.90">SAINT</tspan><tspan dy="2.90">−</tspan><tspan dy="-2.90">DENIS</tspan></text>
<text transform="translate(1135.88 635.26) rotate(-90)" x="0" y="0" font-size="40.36" font-weight="normal" fill="#233567" textLength="49.20" lengthAdjust="spacingAndGlyphs" stroke="#233567" stroke-width="0.45" stroke-linejoin="round">92m</text>
<text transform="translate(1135.88 579.60) rotate(-90)" x="0" y="0" font-size="40.36" font-weight="normal" fill="#233567" textLength="220.21" lengthAdjust="spacingAndGlyphs" stroke="#233567" stroke-width="0.45" stroke-linejoin="round">CHÂTRES<tspan dy="2.90">−</tspan><tspan dy="-2.90">SUR</tspan><tspan dy="2.90">−</tspan><tspan dy="-2.90">CHER</tspan></text>
<text transform="translate(1226.58 601.69) rotate(-90)" x="0" y="0" font-size="40.36" font-weight="normal" fill="#233567" textLength="63.03" lengthAdjust="spacingAndGlyphs" stroke="#233567" stroke-width="0.45" stroke-linejoin="round">142m</text>
<text transform="translate(1226.58 529.52) rotate(-90)" x="0" y="0" font-size="40.36" font-weight="normal" fill="#233567" textLength="119.46" lengthAdjust="spacingAndGlyphs" stroke="#233567" stroke-width="0.45" stroke-linejoin="round">GENOUILLY</text>
<text transform="translate(1323.58 621.51) rotate(-90)" x="0" y="0" font-size="40.36" font-weight="normal" fill="#233567" textLength="63.56" lengthAdjust="spacingAndGlyphs" stroke="#233567" stroke-width="0.45" stroke-linejoin="round">107m</text>
<text transform="translate(1323.58 551.62) rotate(-90)" x="0" y="0" font-size="40.36" font-weight="normal" fill="#233567" textLength="87.85" lengthAdjust="spacingAndGlyphs" stroke="#233567" stroke-width="0.45" stroke-linejoin="round">GRAÇAY</text>
<text transform="translate(1422.18 616.42) rotate(-90)" x="0" y="0" font-size="40.36" font-weight="normal" fill="#233567" textLength="63.77" lengthAdjust="spacingAndGlyphs" stroke="#233567" stroke-width="0.45" stroke-linejoin="round">132m</text>
<text transform="translate(1422.18 546.97) rotate(-90)" x="0" y="0" font-size="40.36" font-weight="normal" fill="#233567" textLength="70.06" lengthAdjust="spacingAndGlyphs" stroke="#233567" stroke-width="0.45" stroke-linejoin="round">VATAN</text>
<text transform="translate(1503.78 593.52) rotate(-90)" x="0" y="0" font-size="40.36" font-weight="normal" fill="#233567" textLength="63.88" lengthAdjust="spacingAndGlyphs" stroke="#233567" stroke-width="0.45" stroke-linejoin="round">151m</text>
<text transform="translate(1503.78 523.80) rotate(-90)" x="0" y="0" font-size="40.36" font-weight="normal" fill="#233567" textLength="69.06" lengthAdjust="spacingAndGlyphs" stroke="#233567" stroke-width="0.45" stroke-linejoin="round">LINIEZ</text>
<text transform="translate(1580.28 593.52) rotate(-90)" x="0" y="0" font-size="40.36" font-weight="normal" fill="#233567" textLength="63.88" lengthAdjust="spacingAndGlyphs" stroke="#233567" stroke-width="0.45" stroke-linejoin="round">139m</text>
<text transform="translate(1580.28 523.68) rotate(-90)" x="0" y="0" font-size="40.36" font-weight="normal" fill="#233567" textLength="114.45" lengthAdjust="spacingAndGlyphs" stroke="#233567" stroke-width="0.45" stroke-linejoin="round">BRETAGNE</text>
<text transform="translate(1662.38 597.72) rotate(-90)" x="0" y="0" font-size="40.36" font-weight="normal" fill="#233567" textLength="73.84" lengthAdjust="spacingAndGlyphs" stroke="#233567" stroke-width="0.45" stroke-linejoin="round">139m</text>
<text transform="translate(1662.38 515.45) rotate(-90)" x="0" y="0" font-size="40.36" font-weight="normal" fill="#233567" textLength="10.77" lengthAdjust="spacingAndGlyphs" stroke="#233567" stroke-width="0.45" stroke-linejoin="round">1</text>
<text transform="translate(1649.08 499.63) rotate(-90)" x="0" y="0" font-size="22.36" font-weight="normal" fill="#233567" textLength="13.66" lengthAdjust="spacingAndGlyphs" stroke="#233567" stroke-width="0.45" stroke-linejoin="round">er</text>
<text transform="translate(1662.38 478.51) rotate(-90)" x="0" y="0" font-size="40.36" font-weight="normal" fill="#233567" textLength="369.64" lengthAdjust="spacingAndGlyphs" stroke="#233567" stroke-width="0.45" stroke-linejoin="round">passage sur la ligne d’arrivée</text>
<text transform="translate(175.80 653.92) rotate(-90)" x="0" y="0" font-size="53.36" font-weight="normal" fill="#233567" textLength="72.37" lengthAdjust="spacingAndGlyphs" stroke="#233567" stroke-width="0.80" stroke-linejoin="round">88m</text>
<text transform="translate(188.20 570.71) rotate(-90)" x="0" y="0" font-size="80.50" font-weight="bold" fill="#233567" textLength="342.40" lengthAdjust="spacingAndGlyphs" filter="url(#dil1)">BEAUGENCY</text>
<text transform="translate(1781.40 592.71) rotate(-90)" x="0" y="0" font-size="53.36" font-weight="normal" fill="#233567" textLength="92.24" lengthAdjust="spacingAndGlyphs" stroke="#233567" stroke-width="0.80" stroke-linejoin="round">139m</text>
<text transform="translate(1794.00 486.59) rotate(-90)" x="0" y="0" font-size="80.50" font-weight="bold" fill="#233567" textLength="250.47" lengthAdjust="spacingAndGlyphs" filter="url(#dil1)">LEVROUX</text>
<circle cx="158.9" cy="162.5" r="40.3" fill="url(#blueg)" stroke="#1a1a1a" stroke-width="1.6"/>
<ellipse cx="159" cy="146.5" rx="32" ry="18.5" fill="url(#hl)"/>
<path d="M148.1 134.8 L181.1 162.8 L148.1 191.2 Z" fill="#fff"/>
<circle cx="1764.4" cy="174.2" r="40.5" fill="url(#redg)" stroke="#1a1a1a" stroke-width="1.6"/>
<ellipse cx="1764.3" cy="158" rx="32" ry="18.5" fill="url(#hl)"/>
<rect x="1741.40" y="151.60" width="9.18" height="9.18" fill="#fff"/>
<rect x="1759.76" y="151.60" width="9.18" height="9.18" fill="#fff"/>
<rect x="1778.12" y="151.60" width="9.18" height="9.18" fill="#fff"/>
<rect x="1750.58" y="160.78" width="9.18" height="9.18" fill="#fff"/>
<rect x="1768.94" y="160.78" width="9.18" height="9.18" fill="#fff"/>
<rect x="1741.40" y="169.96" width="9.18" height="9.18" fill="#fff"/>
<rect x="1759.76" y="169.96" width="9.18" height="9.18" fill="#fff"/>
<rect x="1778.12" y="169.96" width="9.18" height="9.18" fill="#fff"/>
<rect x="1750.58" y="179.14" width="9.18" height="9.18" fill="#fff"/>
<rect x="1768.94" y="179.14" width="9.18" height="9.18" fill="#fff"/>
<rect x="1741.40" y="188.32" width="9.18" height="9.18" fill="#fff"/>
<rect x="1759.76" y="188.32" width="9.18" height="9.18" fill="#fff"/>
<rect x="1778.12" y="188.32" width="9.18" height="9.18" fill="#fff"/>
</svg></body></html>
